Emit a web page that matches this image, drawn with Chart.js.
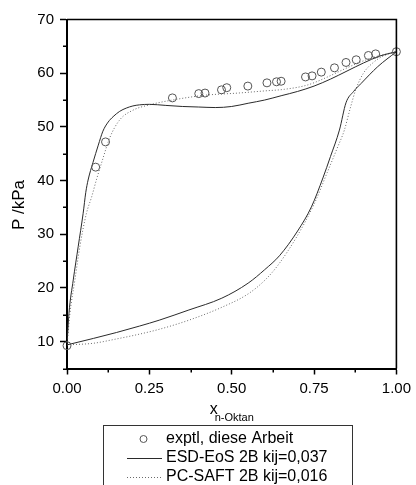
<!DOCTYPE html>
<html>
<head>
<meta charset="utf-8">
<script src="https://cdn.jsdelivr.net/npm/chart.js@4.4.1/dist/chart.umd.min.js"></script>
<style>
  html, body { margin: 0; padding: 0; background: #fff; }
  #wrap { width: 416px; height: 485px; position: relative; }
</style>
</head>
<body>
<div id="wrap"><canvas id="c" width="416" height="485"></canvas></div>
<script>
// Vapour-liquid equilibrium of the n-octane mixture: measured pressures and two model curves
const exptX = [0.0, 0.087, 0.117, 0.320, 0.400, 0.419, 0.469, 0.485, 0.549, 0.607, 0.636, 0.650,
               0.724, 0.744, 0.772, 0.812, 0.847, 0.878, 0.915, 0.937, 1.0];
const exptP = [9.25, 42.5, 47.2, 55.4, 56.2, 56.3, 56.9, 57.3, 57.6, 58.2, 58.4, 58.5,
               59.3, 59.5, 60.2, 61.0, 62.0, 62.5, 63.3, 63.6, 64.0];

// ESD-EoS, bubble branch
const esdBubX = [0, 0.006, 0.019, 0.034, 0.049, 0.057, 0.064, 0.079, 0.095, 0.109, 0.125, 0.14, 0.16,
                 0.18, 0.2, 0.22, 0.25, 0.3, 0.35, 0.4, 0.45, 0.5, 0.55, 0.6, 0.65, 0.7, 0.75, 0.8,
                 0.85, 0.9, 0.95, 1.0];
const esdBubP = [9.4, 15.3, 21.5, 27.7, 33.9, 37.8, 40.1, 43.4, 46.6, 49.2, 50.9, 51.9, 52.9,
                 53.5, 53.9, 54.1, 54.2, 54.0, 53.8, 53.7, 53.6, 53.8, 54.4, 55.0, 55.8, 56.6, 57.6, 58.9,
                 60.4, 61.9, 63.2, 64.0];
// ESD-EoS, dew branch
const esdDewX = [0, 0.08, 0.15, 0.22, 0.28, 0.37, 0.47, 0.55, 0.6, 0.645, 0.7, 0.742, 0.777, 0.8,
                 0.827, 0.847, 0.87, 0.893, 0.943, 1.0];
const esdDewP = [9.4, 10.6, 11.7, 12.9, 14.0, 15.9, 18.1, 20.9, 23.4, 26.0, 30.6, 35.1, 40.5, 44.5,
                 49.4, 54.5, 56.6, 58.1, 61.2, 64.0];

// PC-SAFT, bubble branch
const pcBubX = [0, 0.009, 0.024, 0.039, 0.059, 0.075, 0.09, 0.105, 0.13, 0.16, 0.2, 0.25, 0.32, 0.42,
                0.52, 0.6, 0.66, 0.73, 0.78, 0.85, 0.9, 0.95, 1.0];
const pcBubP = [9.4, 15.3, 21.5, 27.7, 33.9, 37.0, 40.3, 43.3, 48.0, 51.3, 53.1, 54.1, 55.0, 55.9,
                56.3, 56.7, 57.0, 57.8, 59.0, 61.0, 62.3, 63.3, 64.0];
// PC-SAFT, dew branch
const pcDewX = [0, 0.08, 0.15, 0.22, 0.28, 0.37, 0.47, 0.55, 0.6, 0.64, 0.7, 0.75, 0.79, 0.82, 0.842,
                0.86, 0.877, 0.9, 0.93, 0.96, 1.0];
const pcDewP = [9.4, 9.7, 10.5, 11.4, 12.3, 14.0, 16.4, 18.9, 21.4, 24.2, 29.8, 35.6, 41.5, 46.0, 49.4,
                53.5, 57.0, 60.0, 62.0, 63.2, 64.0];

// Axis ticks
const xTicks = [0, 0.25, 0.5, 0.75, 1.0];
const xMinor = [0.125, 0.375, 0.625, 0.875];
const yTicks = [10, 20, 30, 40, 50, 60, 70];
const yMinor = [5, 15, 25, 35, 45, 55, 65];

const legendLabels = ['exptl, diese Arbeit', 'ESD-EoS 2B kij=0,037', 'PC-SAFT 2B kij=0,016'];

const FONT = "'Liberation Sans', Arial, Helvetica, sans-serif";
const pts = (xs, ys) => xs.map((x, i) => ({ x: x, y: ys[i] }));

const SOLID = '#2a2a2a';
const DOTTED = '#6a6a6a';

// Short minor ticks plus the closed frame on top and right
const framePlugin = {
  id: 'frame',
  afterDraw(chart) {
    const { ctx, chartArea: a, scales: { x, y } } = chart;
    ctx.save();
    ctx.strokeStyle = '#000';
    ctx.lineWidth = 1.5;
    xMinor.forEach(v => {
      const px = Math.round(x.getPixelForValue(v)) + 0.25;
      ctx.beginPath(); ctx.moveTo(px, a.bottom); ctx.lineTo(px, a.bottom + 4); ctx.stroke();
    });
    yMinor.forEach(v => {
      const py = Math.round(y.getPixelForValue(v)) + 0.25;
      ctx.beginPath(); ctx.moveTo(a.left, py); ctx.lineTo(a.left - 4, py); ctx.stroke();
    });
    ctx.lineWidth = 1.6;
    ctx.beginPath();
    ctx.moveTo(a.left, a.top);
    ctx.lineTo(a.right, a.top);
    ctx.lineTo(a.right, a.bottom);
    ctx.stroke();
    ctx.restore();
  }
};

// Axis titles: rotated pressure label and mole fraction with subscript
const titlesPlugin = {
  id: 'titles',
  afterDraw(chart) {
    const { ctx, chartArea: a } = chart;
    ctx.save();
    ctx.fillStyle = '#000';
    // y title
    ctx.font = '17px ' + FONT;
    ctx.textAlign = 'center';
    ctx.textBaseline = 'middle';
    ctx.translate(19, 205);
    ctx.rotate(-Math.PI / 2);
    ctx.fillText('P /kPa', 0, 0);
    ctx.restore();

    ctx.save();
    ctx.fillStyle = '#000';
    ctx.textBaseline = 'alphabetic';
    ctx.textAlign = 'left';
    ctx.font = '16px ' + FONT;
    const wMain = ctx.measureText('x').width;
    ctx.font = '11px ' + FONT;
    const wSub = ctx.measureText('n-Oktan').width;
    const overlap = 3;
    const total = wMain + wSub - overlap;
    const x0 = (a.left + a.right) / 2 - total / 2;
    ctx.font = '16px ' + FONT;
    ctx.fillText('x', x0, 414);
    ctx.font = '11px ' + FONT;
    ctx.fillText('n-Oktan', x0 + wMain - overlap, 421);
    ctx.restore();
  }
};

// Boxed legend below the axis
const legendPlugin = {
  id: 'boxLegend',
  afterDraw(chart) {
    const { ctx } = chart;
    const ds = chart.data.datasets.filter(d => d.legendRow !== undefined);
    ctx.save();
    ctx.strokeStyle = '#333';
    ctx.lineWidth = 1;
    ctx.strokeRect(103.5, 425.5, 249, 80);
    ctx.font = '16px ' + FONT;
    ctx.textBaseline = 'middle';
    ctx.textAlign = 'left';
    ds.forEach(d => {
      const yRow = 439 + d.legendRow * 19;
      if (d.showLine === false) {
        ctx.beginPath();
        ctx.arc(143.5, yRow, 3.5, 0, Math.PI * 2);
        ctx.strokeStyle = d.borderColor;
        ctx.lineWidth = 1;
        ctx.stroke();
      } else {
        ctx.beginPath();
        ctx.setLineDash(d.borderDash || []);
        ctx.strokeStyle = d.borderColor;
        ctx.lineWidth = d.borderWidth;
        ctx.moveTo(127, yRow + 0.5);
        ctx.lineTo(162, yRow + 0.5);
        ctx.stroke();
        ctx.setLineDash([]);
      }
      ctx.fillStyle = '#000';
      ctx.fillText(d.label, 166, yRow);
    });
    ctx.restore();
  }
};

const lineDs = (label, data, color, dash, row) => {
  const d = {
    label: label,
    data: data,
    showLine: true,
    borderColor: color,
    borderWidth: 1,
    borderDash: dash,
    pointRadius: 0,
    fill: false,
    cubicInterpolationMode: 'monotone'
  };
  if (row !== undefined) d.legendRow = row;
  return d;
};

new Chart(document.getElementById('c'), {
  type: 'scatter',
  data: {
    datasets: [
      {
        label: legendLabels[0],
        data: pts(exptX, exptP),
        showLine: false,
        pointStyle: 'circle',
        pointRadius: 4,
        pointBorderWidth: 1,
        borderColor: '#555',
        pointBorderColor: '#555',
        pointBackgroundColor: 'rgba(0,0,0,0)',
        clip: false,
        legendRow: 0
      },
      lineDs(legendLabels[1], pts(esdBubX, esdBubP), SOLID, [], 1),
      lineDs('', pts(esdDewX, esdDewP), SOLID, []),
      lineDs(legendLabels[2], pts(pcBubX, pcBubP), DOTTED, [1, 2], 2),
      lineDs('', pts(pcDewX, pcDewP), DOTTED, [1, 2])
    ]
  },
  options: {
    responsive: false,
    devicePixelRatio: 1,
    animation: false,
    events: [],
    layout: { padding: { top: 19.5, right: 17, left: 0, bottom: 0 } },
    plugins: { legend: { display: false }, tooltip: { enabled: false } },
    scales: {
      x: {
        type: 'linear',
        min: 0, max: 1,
        afterBuildTicks: s => { s.ticks = xTicks.map(v => ({ value: v })); },
        afterFit: s => { s.height = 116.5; },
        ticks: {
          callback: v => Number(v).toFixed(2),
          font: { family: FONT, size: 15 },
          color: '#000',
          padding: 5,
          maxRotation: 0,
          autoSkip: false
        },
        grid: { drawOnChartArea: false, drawTicks: true, tickLength: 6, tickWidth: 1.5, tickColor: '#000' },
        border: { display: true, color: '#000', width: 2 },
        title: { display: false }
      },
      y: {
        type: 'linear',
        min: 5, max: 70,
        afterBuildTicks: s => { s.ticks = yTicks.map(v => ({ value: v })); },
        afterFit: s => { s.width = 67; },
        ticks: {
          callback: v => String(v),
          font: { family: FONT, size: 15 },
          color: '#000',
          padding: 6,
          autoSkip: false
        },
        grid: { drawOnChartArea: false, drawTicks: true, tickLength: 7, tickWidth: 1.5, tickColor: '#000' },
        border: { display: true, color: '#000', width: 2 },
        title: { display: false }
      }
    }
  },
  plugins: [framePlugin, titlesPlugin, legendPlugin]
});
</script>
</body>
</html>
